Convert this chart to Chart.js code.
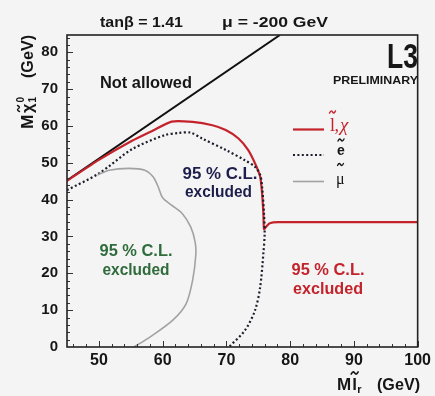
<!DOCTYPE html>
<html><head><meta charset="utf-8">
<script src="https://cdn.jsdelivr.net/npm/chart.js@4"></script>
<style>html,body{margin:0;padding:0;background:#f4f4f5;overflow:hidden}</style>
</head><body>
<canvas id="c" width="435" height="396"></canvas>
<script>
// ---- data ----
const xTicks = [50, 60, 70, 80, 90, 100];
const yTicks = [0, 10, 20, 30, 40, 50, 60, 70, 80];
// kinematic boundary ("Not allowed")
const boundX = [45, 78.4];
const boundY = [45.2, 84.7];
// combined slepton + chargino limit (red solid)
const comboX = [45, 50, 55.2, 58.5, 61.4, 64.7, 67.8, 69.9, 71.9, 73.4, 74.5, 75.3, 75.6, 75.8, 75.9, 76.2, 76.8, 78.1, 100];
const comboY = [45.1, 50.8, 56.0, 58.8, 61.2, 61.1, 60.2, 58.9, 56.6, 53.5, 49.8, 46.2, 41.7, 36.3, 32.0, 32.6, 33.6, 33.9, 33.9];
// selectron limit (dotted)
const selX = [45, 50, 55.2, 60.3, 62.5, 64.4, 66.2, 69.9, 72.9, 74.5, 75.3, 75.6, 75.9, 76.0, 75.8, 75.3, 74.5, 72.9, 70.4];
const selY = [42.6, 47.1, 53.7, 57.5, 58.1, 58.2, 56.6, 53.5, 50.7, 48.9, 46.7, 43.5, 36.2, 30.8, 25.4, 16.3, 10.0, 4.5, 0];
// smuon limit (grey)
const smuX = [49.8, 51.6, 54.7, 57.2, 58.5, 59.3, 60.0, 61.4, 63.1, 64.4, 65.1, 65.2, 64.7, 63.7, 61.6, 58.0, 55.5];
const smuY = [46.7, 48.0, 48.5, 48.0, 46.2, 43.5, 40.5, 38.5, 36.2, 32.6, 28.5, 24.9, 18.1, 11.8, 7.3, 2.7, 0];

const pts = (xs, ys) => xs.map((x, i) => ({x: x, y: ys[i]}));

const RED = '#c4232b', NAVY = '#1d1d4c', GREEN = '#2f6b3b', GREY = '#a2a2a2', INK = '#161616';

function txt(ctx, s, x, y, font, color, align, w) {
  ctx.save();
  ctx.font = font; ctx.fillStyle = color; ctx.textBaseline = 'alphabetic'; ctx.textAlign = 'left';
  const m = ctx.measureText(s).width;
  const sx = w ? w / m : 1;
  const x0 = align === 'center' ? x - m * sx / 2 : align === 'right' ? x - m * sx : x;
  ctx.translate(x0, y); ctx.scale(sx, 1); ctx.fillText(s, 0, 0);
  ctx.restore();
  return m * sx;
}
function tilde(ctx, cx, cy, w, h, lw, color) {
  ctx.save();
  ctx.strokeStyle = color; ctx.lineWidth = lw; ctx.lineCap = 'round';
  ctx.beginPath();
  ctx.moveTo(cx - w / 2, cy + h / 2);
  ctx.bezierCurveTo(cx - w / 4, cy - h, cx - w / 8, cy - h / 2, cx, cy);
  ctx.bezierCurveTo(cx + w / 8, cy + h / 2, cx + w / 4, cy + h, cx + w / 2, cy - h / 2);
  ctx.stroke();
  ctx.restore();
}

const decor = {
  id: 'decor',
  beforeDraw(chart) {
    const ctx = chart.ctx;
    ctx.save(); ctx.fillStyle = '#f4f4f5'; ctx.fillRect(0, 0, chart.width, chart.height); ctx.restore();
  },
  afterDatasetsDraw(chart) {
    const ctx = chart.ctx, a = chart.chartArea, xs = chart.scales.x, ys = chart.scales.y;
    ctx.save();
    // inward ticks
    ctx.strokeStyle = '#333'; ctx.lineWidth = 1;
    ctx.beginPath();
    for (let v = 46; v <= 100; v += 2) {
      const p = Math.round(xs.getPixelForValue(v)) + 0.5, len = v % 10 === 0 ? 6 : 3;
      ctx.moveTo(p, a.bottom); ctx.lineTo(p, a.bottom - len);
    }
    for (let v = 2; v <= 84; v += 2) {
      const p = Math.round(ys.getPixelForValue(v)) + 0.5, len = v % 10 === 0 ? 6 : 3;
      ctx.moveTo(a.left, p); ctx.lineTo(a.left + len, p);
    }
    ctx.stroke();
    // frame
    ctx.strokeStyle = '#222'; ctx.lineWidth = 1.6;
    ctx.strokeRect(a.left, a.top, a.right - a.left, a.bottom - a.top);
    ctx.restore();

    const B = 'bold ';
    const F = '"Liberation Sans", Arial, sans-serif';
    const S = '"Liberation Serif", "Times New Roman", serif';
    // header
    txt(ctx, 'tanβ = 1.41', 141.5, 26.5, B + '15px ' + F, INK, 'center', 83);
    txt(ctx, 'μ = -200 GeV', 275, 26.5, B + '15px ' + F, INK, 'center', 106);
    // L3 + preliminary
    txt(ctx, 'L3', 418, 68, B + '35px ' + F, INK, 'right', 31);
    txt(ctx, 'PRELIMINARY', 418, 83.5, B + '10.5px ' + F, INK, 'right', 85);
    // region labels
    txt(ctx, 'Not allowed', 146, 87.5, B + '16px ' + F, INK, 'center', 92);
    txt(ctx, '95 % C.L.', 220, 178.5, B + '16px ' + F, NAVY, 'center', 75);
    txt(ctx, 'excluded', 218.5, 197, B + '16px ' + F, NAVY, 'center', 67);
    txt(ctx, '95 % C.L.', 136, 255.5, B + '16px ' + F, GREEN, 'center', 73);
    txt(ctx, 'excluded', 136, 274.5, B + '16px ' + F, GREEN, 'center', 67);
    txt(ctx, '95 % C.L.', 328, 274.5, B + '16px ' + F, RED, 'center', 73);
    txt(ctx, 'excluded', 328, 294, B + '16px ' + F, RED, 'center', 70);

    // legend
    const ds = chart.data.datasets;
    const legend = [
      {d: ds[2], y: 129.5},
      {d: ds[1], y: 155},
      {d: ds[0], y: 181.5}
    ];
    legend.forEach(L => {
      ctx.save();
      ctx.strokeStyle = L.d.borderColor; ctx.lineWidth = L.d.borderWidth;
      ctx.setLineDash(L.d.borderDash || []);
      ctx.beginPath(); ctx.moveTo(293, L.y); ctx.lineTo(324, L.y); ctx.stroke();
      ctx.restore();
    });
    // l~, chi
    txt(ctx, 'l', 330, 130.5, '18px ' + S, RED);
    tilde(ctx, 332.5, 112, 6, 2.2, 1.4, RED);
    txt(ctx, ',', 334.5, 130.5, '18px ' + S, RED);
    txt(ctx, 'χ', 340, 130.5, 'italic 19px ' + S, RED);
    // e~
    txt(ctx, 'e', 337, 155, B + '14px ' + F, INK);
    tilde(ctx, 341, 140, 6, 2, 1.4, INK);
    // mu~
    txt(ctx, 'μ', 336, 183.5, '16px ' + S, INK);
    tilde(ctx, 340.5, 164.5, 6, 2, 1.3, INK);

    // x-axis title
    let x = 337;
    x += txt(ctx, 'M', x, 389.5, B + '17px ' + F, INK);
    const lx = x + 1;
    txt(ctx, 'l', lx, 389.5, B + '17px ' + F, INK);
    tilde(ctx, lx + 2.5, 373, 7, 2.2, 1.6, INK);
    txt(ctx, 'r', lx + 5, 393, B + '11px ' + F, INK);
    txt(ctx, '(GeV)', 420, 389.5, B + '17px ' + F, INK, 'right', 43);

    // y-axis title (rotated)
    ctx.save();
    ctx.translate(32.5, 129);
    ctx.rotate(-Math.PI / 2);
    txt(ctx, 'M', 0, 0, B + '17px ' + F, INK, 'left', 14.5);
    txt(ctx, 'χ', 16, 0, B + '17px ' + F, INK, 'left', 9.5);
    tilde(ctx, 20.5, -14, 6, 2, 1.4, INK);
    txt(ctx, '0', 26.5, -8.5, B + '10px ' + F, INK);
    txt(ctx, '1', 26.5, 3.5, B + '10px ' + F, INK);
    txt(ctx, '(GeV)', 51, 0, B + '17px ' + F, INK, 'left', 43);
    ctx.restore();
  }
};

const keepTicks = list => scale => {
  scale.ticks = list.map(v => ({value: v}));
};

new Chart(document.getElementById('c'), {
  type: 'line',
  data: {
    datasets: [
      {label: 'smuon', data: pts(smuX, smuY), borderColor: GREY, borderWidth: 1.6, tension: 0.3, pointRadius: 0, fill: false},
      {label: 'selectron', data: pts(selX, selY), borderColor: '#1e1e2a', borderWidth: 2.2, borderDash: [2, 2.4], borderCapStyle: 'butt', tension: 0.3, pointRadius: 0, fill: false},
      {label: 'slepton, chargino', data: pts(comboX, comboY), borderColor: RED, borderWidth: 2.2, tension: 0.2, pointRadius: 0, fill: false},
      {label: 'boundary', data: pts(boundX, boundY), borderColor: '#111', borderWidth: 2, tension: 0, pointRadius: 0, fill: false}
    ]
  },
  options: {
    responsive: false,
    animation: false,
    devicePixelRatio: 1,
    layout: {padding: {left: 0, right: 13, top: 35, bottom: 0}},
    plugins: {legend: {display: false}, tooltip: {enabled: false}, title: {display: false}},
    scales: {
      x: {
        type: 'linear', min: 45, max: 100,
        afterBuildTicks: keepTicks(xTicks),
        afterFit: s => { s.height = 49; },
        grid: {display: false, drawTicks: false},
        border: {display: false},
        ticks: {padding: 4, autoSkip: false, maxRotation: 0, color: INK,
                font: {family: '"Liberation Sans", Arial, sans-serif', size: 16, weight: 'bold'}}
      },
      y: {
        type: 'linear', min: 0, max: 84.7,
        afterBuildTicks: keepTicks(yTicks),
        afterFit: s => { s.width = 67; },
        grid: {display: false, drawTicks: false},
        border: {display: false},
        ticks: {padding: 9, autoSkip: false, color: INK,
                font: {family: '"Liberation Sans", Arial, sans-serif', size: 15, weight: 'bold'}}
      }
    }
  },
  plugins: [decor]
});
</script>
</body></html>
